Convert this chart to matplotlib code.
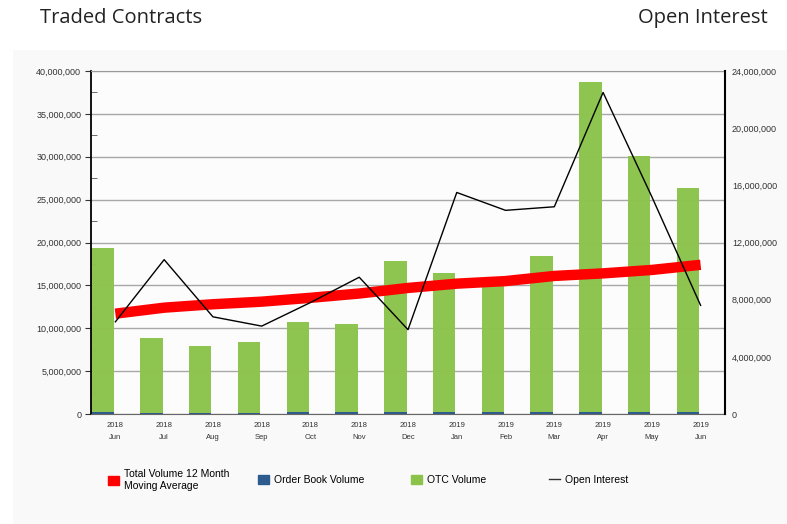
import numpy as np
import matplotlib.pyplot as plt
from matplotlib.patches import Patch, Rectangle
from matplotlib.lines import Line2D
from matplotlib.ticker import FuncFormatter, MultipleLocator

years = ['2018'] * 7 + ['2019'] * 6
months = ['Jun', 'Jul', 'Aug', 'Sep', 'Oct', 'Nov', 'Dec',
          'Jan', 'Feb', 'Mar', 'Apr', 'May', 'Jun']

# volumes (contracts)
order_book = [0.2e6, 0.15e6, 0.15e6, 0.15e6, 0.2e6, 0.2e6, 0.2e6,
              0.2e6, 0.2e6, 0.2e6, 0.2e6, 0.2e6, 0.2e6]
otc = [19.2e6, 8.75e6, 7.8e6, 8.25e6, 10.5e6, 10.3e6, 17.7e6,
       16.3e6, 15.0e6, 18.2e6, 38.5e6, 29.9e6, 26.1e6]
moving_avg = [11.7e6, 12.4e6, 12.8e6, 13.1e6, 13.55e6, 14.05e6, 14.7e6,
              15.2e6, 15.5e6, 16.1e6, 16.4e6, 16.8e6, 17.4e6]
open_interest = [6.45e6, 10.8e6, 6.8e6, 6.15e6, 7.8e6, 9.57e6, 5.9e6,
                 15.5e6, 14.25e6, 14.5e6, 22.5e6, 15.2e6, 7.6e6]

GREEN = '#8bc34a'
BLUE = '#2e5b8e'
RED = '#ff0000'

plt.rcParams['font.family'] = ['Liberation Sans', 'DejaVu Sans']

fig = plt.figure(figsize=(7.87, 5.24), dpi=100)
fig.patch.set_facecolor('white')
# light grey panel behind the chart
fig.patches.append(Rectangle((13 / 787, 0), 1, 1 - 50 / 524, transform=fig.transFigure,
                             facecolor='#f9f9f9', edgecolor='none', zorder=-10))

fig.text(40 / 787, 1 - 18 / 524, 'Traded Contracts', fontsize=14.5,
         family='Open Sans', va='center', ha='left', color='#222222')
fig.text(768 / 787, 1 - 18 / 524, 'Open Interest', fontsize=14.5,
         family='Open Sans', va='center', ha='right', color='#222222')

ax = fig.add_axes([91 / 787, 1 - 414 / 524, 634 / 787, 343 / 524])
ax.set_facecolor('#fcfcfc')
x = np.arange(len(months))
bx = x - 0.26
ax.bar(bx, order_book, width=0.46, color=BLUE, zorder=2)
ax.bar(bx, otc, width=0.46, bottom=order_book, color=GREEN, alpha=0.97, zorder=2)
ax.plot(x, moving_avg, color=RED, lw=7.5, solid_capstyle='butt', zorder=3)

ax.set_xlim(-0.5, len(months) - 0.5)
ax.set_ylim(0, 40e6)
ax.yaxis.set_major_locator(MultipleLocator(5e6))
ax.yaxis.set_minor_locator(MultipleLocator(2.5e6))
ax.yaxis.set_major_formatter(FuncFormatter(lambda v, p: f'{int(v):,}'))
ax.grid(axis='y', color='#a8a8a8', lw=1, zorder=1)
ax.set_axisbelow(True)
ax.tick_params(axis='y', which='major', labelsize=6.5, length=4, direction='out', pad=3,
               colors='#333333')
ax.tick_params(axis='y', which='minor', length=4, direction='in', color='#555555')
ax.set_xticks(x)
ax.set_xticklabels([f'{y}\n{m}' for y, m in zip(years, months)], fontsize=5.5,
                   color='#333333', linespacing=1.9)
ax.tick_params(axis='x', length=0, pad=6)
ax.spines['left'].set_color('black')
ax.spines['left'].set_linewidth(1.3)
ax.spines['top'].set_color('#999999')
ax.spines['bottom'].set_color('#666666')
ax.spines['right'].set_visible(False)

ax2 = ax.twinx()
ax2.plot(x, open_interest, color='black', lw=1, zorder=4)
ax2.set_ylim(0, 24e6)
ax2.yaxis.set_major_locator(MultipleLocator(4e6))
ax2.yaxis.set_major_formatter(FuncFormatter(lambda v, p: f'{int(v):,}'))
ax2.tick_params(axis='y', labelsize=6.5, length=0, pad=5, colors='#333333')
ax2.spines['right'].set_color('black')
ax2.spines['right'].set_linewidth(1.5)
for s in ['left', 'top', 'bottom']:
    ax2.spines[s].set_visible(False)

# legend, one entry per block
entries = [
    (Patch(color=RED), 'Total Volume 12 Month\nMoving Average', 108),
    (Patch(color=BLUE), 'Order Book Volume', 258),
    (Patch(color=GREEN), 'OTC Volume', 411),
    (Line2D([], [], color='#333333', lw=1), 'Open Interest', 549),
]
for h, lab, px in entries:
    fig.legend([h], [lab], loc='center left', bbox_to_anchor=(px / 787, 1 - 480 / 524),
               frameon=False, fontsize=7.5, handlelength=1.1, handleheight=0.9,
               handletextpad=0.4, borderpad=0, borderaxespad=0)

fig.savefig('out.png', dpi=100, facecolor=fig.get_facecolor())
